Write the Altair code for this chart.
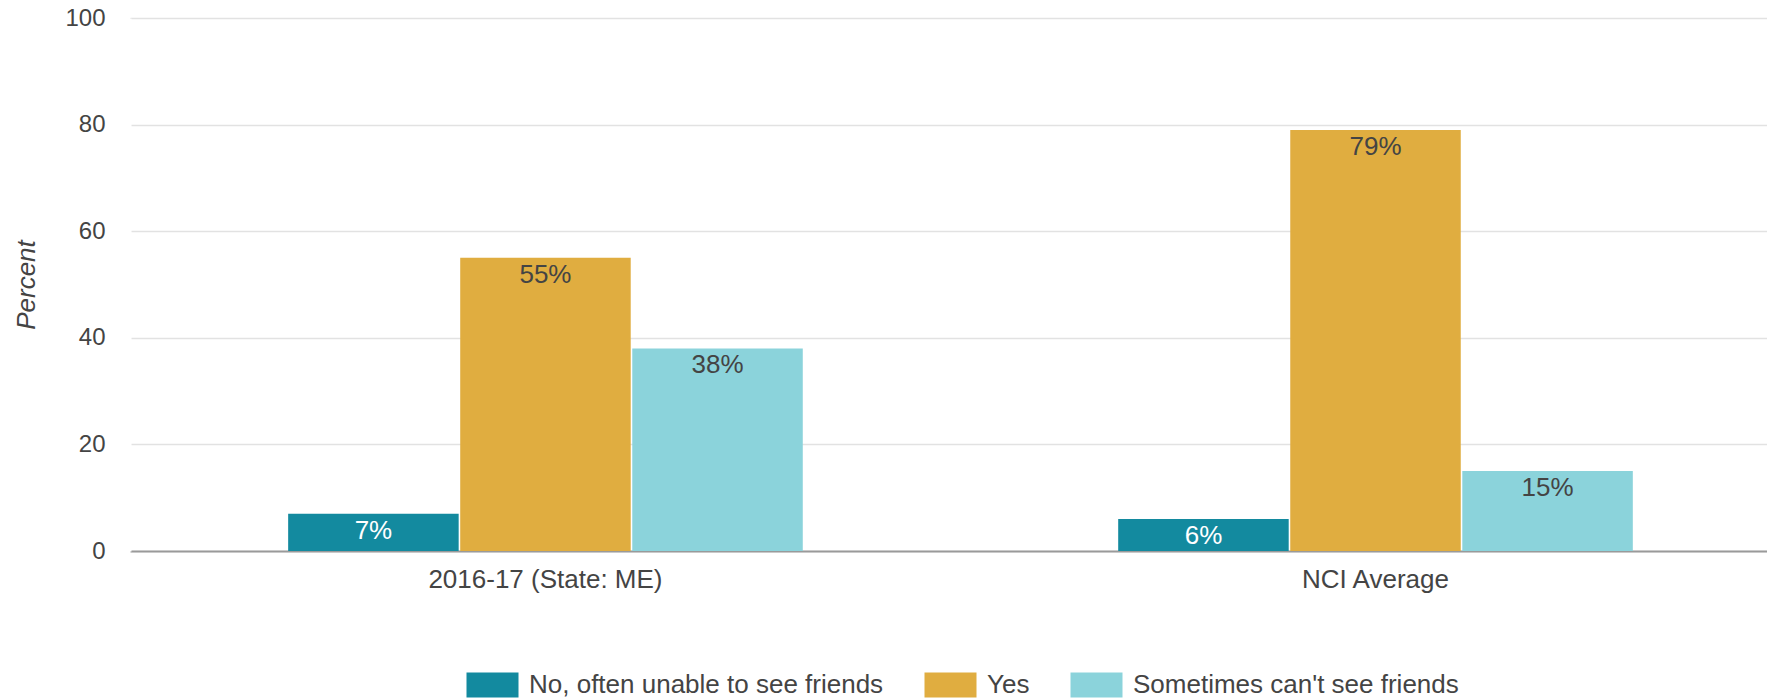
import altair as alt
import pandas as pd

groups = ["2016-17 (State: ME)", "NCI Average"]
series = ["No, often unable to see friends", "Yes", "Sometimes can't see friends"]
colors = ["#138A9F", "#E0AD40", "#8BD3DB"]
values_me = [7, 55, 38]
values_nci = [6, 79, 15]
y_ticks = [0, 20, 40, 60, 80, 100]

rows = []
for g, vals in zip(groups, [values_me, values_nci]):
    for s, v in zip(series, vals):
        rows.append({"group": g, "series": s, "value": v, "label": f"{v}%"})
df = pd.DataFrame(rows)

FONT = "Liberation Sans"
W = 1637
H = 533

x_axis = alt.Axis(
    title=None,
    labelAngle=0,
    ticks=False,
    tickSize=0,
    labelPadding=15,
    labelFontSize=26,
    labelColor="#444444",
    labelFont=FONT,
    labelLimit=0,
    domainColor="#9a9a9a",
    domainWidth=2,
    grid=False,
)
y_axis = alt.Axis(
    title="Percent",
    values=y_ticks,
    titleFontStyle="italic",
    titleFontWeight="normal",
    titleFontSize=26,
    titleColor="#444444",
    titleFont=FONT,
    titlePadding=25,
    labelFontSize=24,
    labelColor="#444444",
    labelFont=FONT,
    labelPadding=25,
    ticks=False,
    tickSize=0,
    domain=True,
    domainColor="#ffffff",
    domainWidth=2,
    gridColor="#e2e2e2",
    gridWidth=1.5,
)

x_enc = alt.X(
    "group:N",
    sort=groups,
    scale=alt.Scale(paddingInner=0.38, paddingOuter=0.1761, align=0.541),
    axis=x_axis,
)
xo_enc = alt.XOffset(
    "series:N", sort=series, scale=alt.Scale(paddingInner=0.009, paddingOuter=0)
)
y_enc = alt.Y(
    "value:Q",
    scale=alt.Scale(domain=[0, 100], nice=False),
    axis=y_axis,
)

bars = alt.Chart(df).mark_bar().encode(
    x=x_enc,
    xOffset=xo_enc,
    y=y_enc,
    color=alt.Color(
        "series:N",
        sort=series,
        scale=alt.Scale(domain=series, range=colors),
        legend=alt.Legend(
            title=None,
            orient="none",
            legendX=336,
            legendY=654,
            direction="horizontal",
            symbolType="M-1,-1H3.16V1H-1Z",
            symbolSize=625,
            symbolStrokeWidth=0,
            labelOffset=37,
            columnPadding=40,
            labelFontSize=26,
            labelColor="#444444",
            labelFont=FONT,
            labelLimit=0,
            padding=0,
        ),
    ),
)

labels = alt.Chart(df).mark_text(
    baseline="alphabetic", dy=25, fontSize=26, font=FONT
).encode(
    x=x_enc,
    xOffset=xo_enc,
    y=y_enc,
    text="label:N",
    color=alt.condition(
        alt.datum.series == series[0], alt.value("white"), alt.value("#444444")
    ),
)

chart = (
    alt.layer(bars, labels)
    .properties(
        width=W,
        height=H,
        autosize=alt.AutoSizeParams(type="none"),
        padding={"left": 122, "top": 10, "right": 0, "bottom": 149},
    )
    .configure_view(stroke="transparent", strokeWidth=0)
    .configure(font=FONT)
)

chart.save("out.html", embed_options={"renderer": "svg", "actions": False})
